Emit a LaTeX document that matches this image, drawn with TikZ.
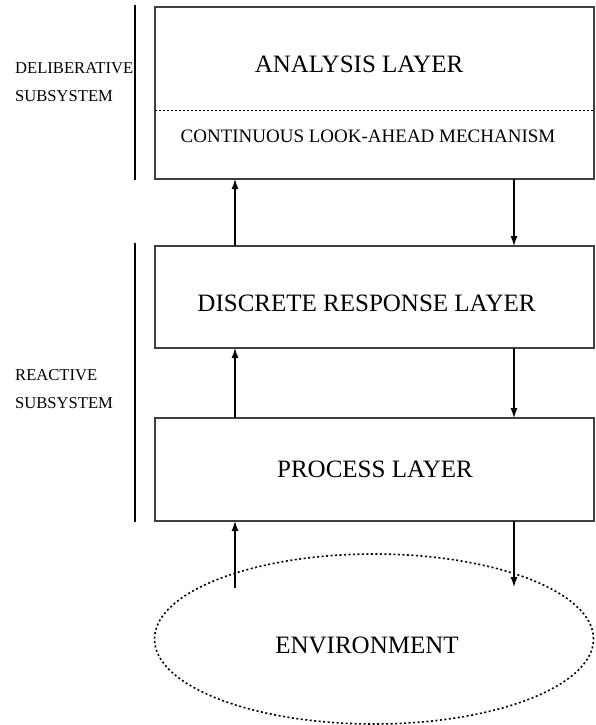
\documentclass[tikz,border=0pt]{standalone}
\usepackage{fontspec}
\setmainfont{Liberation Serif}
\usetikzlibrary{arrows.meta,shapes.geometric}
\begin{document}
\begin{tikzpicture}[x=1pt,y=-1pt,
  box/.style={draw=black!75,line width=1.4pt,minimum width=439pt,inner sep=0pt,outer sep=0pt},
  big/.style={font=\fontsize{25}{25}\selectfont,inner sep=0pt,anchor=base},
  mid/.style={font=\fontsize{19}{19}\selectfont,inner sep=0pt,anchor=base},
  side/.style={font=\fontsize{16.6}{16.6}\selectfont,inner sep=0pt,anchor=base west},
  arr/.style={draw=black,line width=1.2pt,-{Latex[length=10pt,width=7pt]}},
  bar/.style={draw=black,line width=1.4pt},
  dotline/.style={draw=black,line width=1pt,dash pattern=on 2pt off 2pt}]
\useasboundingbox (0,0) rectangle (595,725);
% boxes
\node[box,minimum height=172pt] (ana) at (374.5,93) {};
\node[box,minimum height=102pt] (disc) at (374.5,297) {};
\node[box,minimum height=103pt] (proc) at (374.5,469.5) {};
\node[draw=black,line width=1.6pt,dash pattern=on 2pt off 2.5pt,ellipse,inner sep=0pt,
      minimum width=439pt,minimum height=170pt] (env) at (374,639) {};
% dotted separator
\coordinate (dl) at (0,110);
\draw[dotline] (ana.west |- dl) -- (ana.east |- dl);
% texts
\node[big] (tana) at (359,72) {ANALYSIS LAYER};
\node[mid] (tcont) at (368,142) {CONTINUOUS LOOK-AHEAD MECHANISM};
\node[big] (tdisc) at (366.5,311) {DISCRETE RESPONSE LAYER};
\node[big] (tproc) at (375,477) {PROCESS LAYER};
\node[big] (tenv) at (367,653) {ENVIRONMENT};
\node[side] (del1) at (15,74) {DELIBERATIVE};
\node[side] (del2) at (15,101.7) {SUBSYSTEM};
\node[side] (rea1) at (15,380) {REACTIVE};
\node[side] (rea2) at (15,408) {SUBSYSTEM};
% side bars
\coordinate (b1t) at (135,5);
\coordinate (b1b) at (135,180);
\coordinate (b2t) at (135,243);
\coordinate (b2b) at (135,522);
\draw[bar] (b1t) -- (b1b);
\draw[bar] (b2t) -- (b2b);
% arrows
\coordinate (upx) at (235,0);
\coordinate (dnx) at (514,0);
\coordinate (envup) at (235,588);
\coordinate (envdn) at (514,587);
\draw[arr] (disc.north -| upx) -- (ana.south -| upx);
\draw[arr] (ana.south -| dnx) -- (disc.north -| dnx);
\draw[arr] (proc.north -| upx) -- (disc.south -| upx);
\draw[arr] (disc.south -| dnx) -- (proc.north -| dnx);
\draw[arr] (envup) -- (proc.south -| upx);
\draw[arr] (proc.south -| dnx) -- (envdn);
\end{tikzpicture}
\end{document}
